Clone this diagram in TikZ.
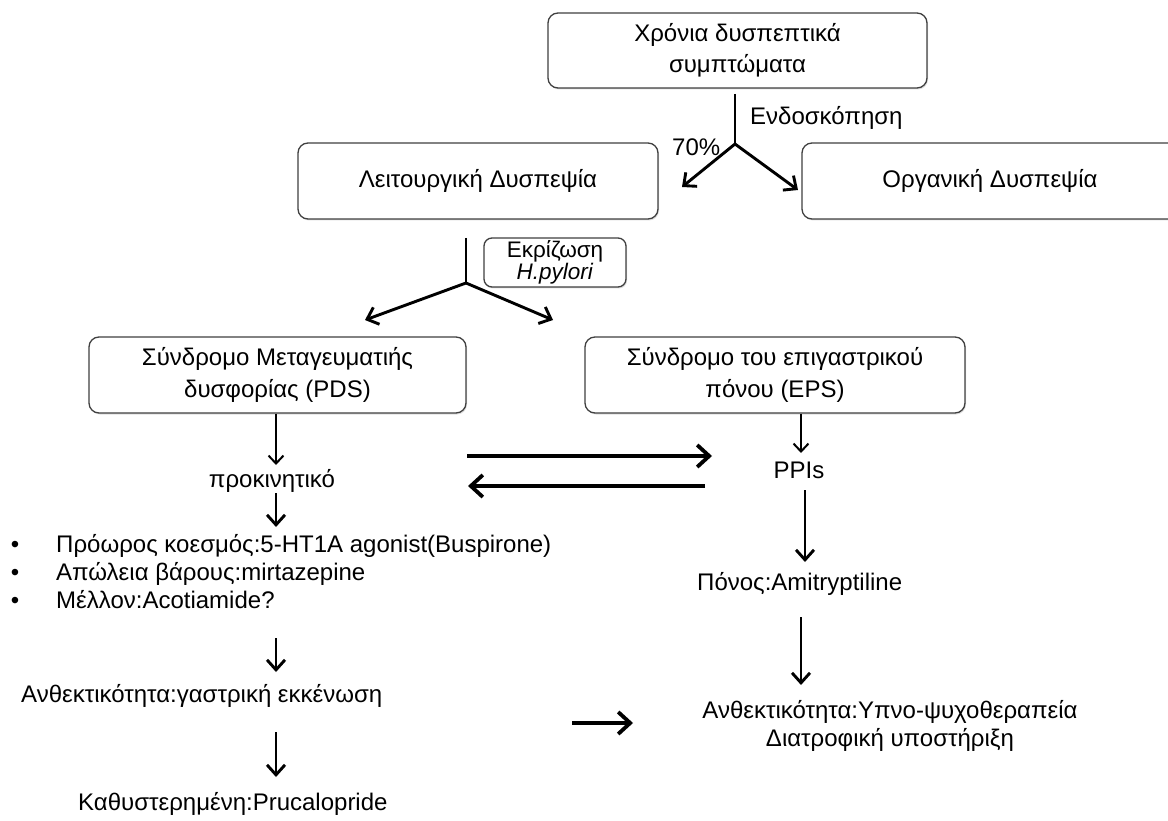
\documentclass[tikz,border=0pt]{standalone}
\usepackage{fontspec}
\setmainfont{Liberation Sans}
\usetikzlibrary{arrows.meta,shadows}
\newcommand{\fsz}{\fontsize{24}{27.5}\selectfont}
\newcommand{\fsmall}{\fontsize{22.5}{19}\selectfont}
\begin{document}
\begin{tikzpicture}[x=1pt,y=-1pt,
  box/.style={draw=black!75, line width=1.3pt, rounded corners=10pt, fill=white,
    align=center, font=\fsz, inner sep=0pt,
    drop shadow={shadow xshift=1pt, shadow yshift=-1.5pt, opacity=0.25}},
  smallbox/.style={box, rounded corners=8pt, font=\fsmall},
  txt/.style={font=\fsz, inner sep=0pt},
  thinarr/.style={line width=2pt, -{Straight Barb[length=8pt,width=15pt]}},
  midarr/.style={line width=2.9pt, -{Straight Barb[length=10pt,width=18pt]}},
  thickarr/.style={line width=3.8pt, -{Straight Barb[length=12pt,width=22pt]}},
  plainline/.style={line width=2.9pt}
]
\clip (0,0) rectangle (1168,821);
\fill[white] (0,0) rectangle (1168,821);

% boxes
\node[box, minimum width=379pt, minimum height=75pt] (top) at (737.5,50.5)
  {Χρόνια δυσπεπτικά\\[3pt]συμπτώματα};
\node[box, minimum width=360pt, minimum height=76pt] (leit) at (478,181)
  {Λειτουργική Δυσπεψία};
\node[box, minimum width=376pt, minimum height=76pt] (org) at (990,181)
  {Οργανική Δυσπεψία};
\node[smallbox, minimum width=142pt, minimum height=49pt] (hp) at (555,262.5)
  {Εκρίζωση\\\textit{H.pylori}};
\node[box, minimum width=377pt, minimum height=76pt] (pds) at (277.5,375)
  {Σύνδρομο Μεταγευματιής\\[4pt]δυσφορίας (PDS)};
\node[box, minimum width=380pt, minimum height=76pt] (eps) at (775,375)
  {Σύνδρομο του επιγαστρικού\\[4pt]πόνου (EPS)};

% free texts
\node[txt, anchor=base west] (endo) at (750,125) {Ενδοσκόπηση};
\node[txt, anchor=base west] (pct) at (672,156) {70\%};
\node[txt, anchor=base] (prok) at (272,487) {προκινητικό};
\node[txt, anchor=base] (ppis) at (799,478) {PPIs};
\node[txt, anchor=base] (b1) at (15,552) {•};
\node[txt, anchor=base] (b2) at (15,580) {•};
\node[txt, anchor=base] (b3) at (15,608) {•};
\node[txt, anchor=base west] (l1) at (56,552) {Πρόωρος κοεσμός:5-HT1A agonist(Buspirone)};
\node[txt, anchor=base west] (l2) at (56,580) {Απώλεια βάρους:mirtazepine};
\node[txt, anchor=base west] (l3) at (56,608) {Μέλλον:Acotiamide?};
\node[txt, anchor=base west] (pain) at (697,590) {Πόνος:Amitryptiline};
\node[txt, anchor=base west] (anth1) at (21,702) {Ανθεκτικότητα:γαστρική εκκένωση};
\node[txt, anchor=base west] (kath) at (78,810) {Καθυστερημένη:Prucalopride};
\node[txt, anchor=base] (anth2) at (890,718) {Ανθεκτικότητα:Υπνο-ψυχοθεραπεία};
\node[txt, anchor=base] (diat) at (890,746) {Διατροφική υποστήριξη};

% fork 1
\coordinate (f1s) at (735,94);
\coordinate (f1) at (735,144);
\coordinate (f1l) at (682,187);
\coordinate (f1r) at (798,190);
\draw[plainline] (f1s) -- (f1);
\draw[midarr] (f1) -- (f1l);
\draw[midarr] (f1) -- (f1r);

% fork 2
\coordinate (f2s) at (466,238);
\coordinate (f2) at (466,283);
\coordinate (f2l) at (365,320);
\coordinate (f2r) at (553,320);
\draw[plainline] (f2s) -- (f2);
\draw[midarr] (f2) -- (f2l);
\draw[midarr] (f2) -- (f2r);

% left column
\coordinate (a1e) at (276,465);
\draw[thinarr] (pds.south -| a1e) -- (a1e);
\coordinate (a2s) at (276,493);
\coordinate (a2e) at (276,527);
\draw[midarr] (a2s) -- (a2e);
\coordinate (a3s) at (276,638);
\coordinate (a3e) at (276,672);
\draw[midarr] (a3s) -- (a3e);
\coordinate (a4s) at (276,732);
\coordinate (a4e) at (276,777);
\draw[midarr] (a4s) -- (a4e);

% right column
\coordinate (b1e) at (801,453);
\draw[thinarr] (eps.south -| b1e) -- (b1e);
\coordinate (c1s) at (805,490);
\coordinate (c1e) at (805,562);
\draw[midarr] (c1s) -- (c1e);
\coordinate (c2s) at (801,617);
\coordinate (c2e) at (801,685);
\draw[midarr] (c2s) -- (c2e);

% double arrows
\coordinate (d1s) at (467,456);
\coordinate (d1e) at (712,456);
\draw[thickarr] (d1s) -- (d1e);
\coordinate (d2s) at (705,486);
\coordinate (d2e) at (468,486);
\draw[thickarr] (d2s) -- (d2e);

% bottom horizontal
\coordinate (h1s) at (572,723);
\coordinate (h1e) at (633,723);
\draw[thickarr] (h1s) -- (h1e);
\end{tikzpicture}
\end{document}
